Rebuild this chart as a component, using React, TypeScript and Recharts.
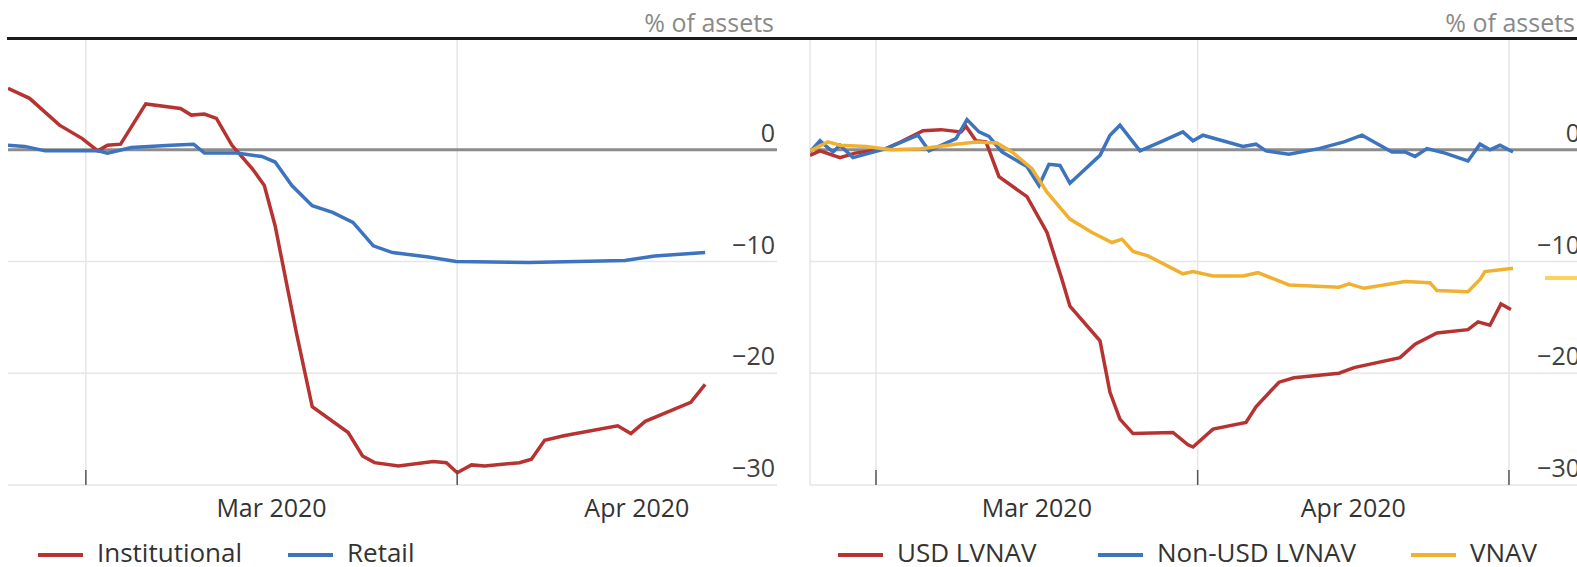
import { LineChart, Line, XAxis, YAxis, CartesianGrid, ReferenceLine } from "recharts";

// x values are days counted from 1 Mar 2020 (0 = 1 Mar, 31 = 1 Apr, 61 = 1 May)

// left panel: by investor type
const instDays = [-6.5, -4.7, -2.2, -0.3, 1.0, 1.8, 2.9, 5.0, 7.9, 8.8, 9.9, 10.9, 12.2, 13.9, 14.9, 15.8, 16.8, 17.6, 18.9, 21.9, 23.1, 24.1, 26.1, 29.0, 30.1, 31.0, 32.2, 33.3, 36.2, 37.2, 38.3, 39.9, 44.4, 45.5, 46.7, 50.5, 51.7];
const instValues = [5.5, 4.6, 2.2, 1.0, -0.1, 0.4, 0.5, 4.1, 3.7, 3.1, 3.2, 2.8, 0.4, -1.7, -3.2, -6.8, -12.2, -16.5, -23.0, -25.3, -27.4, -28.0, -28.3, -27.9, -28.0, -28.9, -28.2, -28.3, -28.0, -27.7, -26.0, -25.6, -24.7, -25.4, -24.3, -22.6, -21.0];

const retailDays = [-6.5, -5.1, -3.4, 1.0, 1.8, 3.8, 7.1, 9.0, 9.9, 12.6, 14.7, 15.8, 17.2, 18.9, 20.6, 22.3, 24.0, 25.6, 28.6, 30.9, 37.0, 45.0, 47.5, 51.7];
const retailValues = [0.4, 0.3, -0.1, -0.1, -0.3, 0.2, 0.4, 0.5, -0.3, -0.3, -0.6, -1.1, -3.2, -5.0, -5.6, -6.5, -8.6, -9.2, -9.6, -10.0, -10.1, -9.9, -9.5, -9.2];

// right panel: by fund type
const usdDays = [-6.36, -5.4, -3.47, -2.02, 0.96, 2.41, 4.53, 6.26, 8.19, 8.67, 9.64, 10.6, 11.85, 14.55, 16.48, 17.92, 18.69, 21.59, 22.55, 23.51, 24.77, 28.62, 30.07, 30.55, 32.48, 35.66, 36.62, 38.84, 40.28, 44.62, 46.07, 50.5, 51.95, 54.06, 57.05, 58.02, 59.17, 60.23, 61.19];
const usdValues = [-0.5, -0.1, -0.7, -0.3, 0.1, 0.7, 1.7, 1.8, 1.6, 2.1, 0.8, 0.7, -2.4, -4.2, -7.4, -11.6, -14.0, -17.1, -21.7, -24.1, -25.4, -25.3, -26.4, -26.6, -25.0, -24.4, -23.0, -20.8, -20.4, -20.0, -19.5, -18.6, -17.4, -16.4, -16.1, -15.4, -15.7, -13.8, -14.3];

const nonUsdDays = [-6.36, -5.4, -4.14, -3.47, -2.22, 0.96, 4.05, 5.11, 7.71, 8.77, 9.93, 10.89, 12.14, 14.55, 15.71, 16.67, 17.73, 18.69, 21.59, 22.55, 23.51, 25.44, 27.66, 29.58, 30.55, 31.51, 35.37, 36.62, 37.58, 39.8, 42.69, 45.1, 46.84, 48.0, 49.73, 50.98, 51.95, 53.1, 54.84, 57.05, 58.21, 59.17, 60.13, 61.39];
const nonUsdValues = [-0.2, 0.8, -0.2, 0.4, -0.7, 0.1, 1.3, -0.1, 1.0, 2.7, 1.6, 1.2, -0.2, -1.5, -3.2, -1.3, -1.4, -3.0, -0.5, 1.3, 2.2, -0.1, 0.8, 1.6, 0.8, 1.3, 0.3, 0.5, -0.1, -0.4, 0.1, 0.7, 1.3, 0.7, -0.2, -0.2, -0.6, 0.1, -0.3, -1.0, 0.5, 0.0, 0.4, -0.2];

const vnavDays = [-6.36, -4.63, -3.47, -0.96, 1.45, 4.34, 7.71, 9.64, 11.66, 13.11, 15.03, 16.48, 18.69, 20.82, 22.74, 23.71, 24.77, 26.21, 29.58, 30.55, 32.48, 35.37, 36.81, 39.8, 44.62, 45.58, 47.03, 50.98, 53.39, 54.06, 57.05, 58.21, 58.69, 61.39];
const vnavValues = [-0.1, 0.7, 0.4, 0.3, 0, 0.1, 0.5, 0.7, 0.6, -0.2, -1.7, -3.8, -6.2, -7.4, -8.3, -8.0, -9.1, -9.5, -11.1, -10.9, -11.3, -11.3, -11.0, -12.1, -12.3, -12.0, -12.4, -11.8, -11.9, -12.6, -12.7, -11.6, -10.9, -10.6];

const yTicks = [-30, -20, -10, 0];
const yDomain = [-30, 10];
const monthLabels = ["Mar 2020", "Apr 2020"];
const monthMids = [15.5, 46];
const leftMonthStarts = [0, 31];
const rightMonthStarts = [0, 31, 61];

const RED = "#b73332";
const BLUE = "#3d74bf";
const YELLOW = "#f1b030";
const FONT = "'Open Sans', sans-serif";

type Series = { name: string; color: string; days: number[]; values: number[] };

const zip = (days: number[], values: number[]) => days.map((d, i) => ({ d, v: values[i] }));

function YTick(props: any) {
  const { x, y, payload } = props;
  const v = Number(payload.value);
  return (
    <text x={x - 2} y={y - 8} textAnchor="end" fontSize={25} fill="#404040" fontFamily={FONT}>
      {v < 0 ? `\u2212${Math.abs(v)}` : `${v}`}
    </text>
  );
}

const NoLabel = () => <g />;

function Panel({ series, width, domain, starts, marginLeft, marginRight, leftBorder }: {
  series: Series[]; width: number; domain: [number, number]; starts: number[];
  marginLeft: number; marginRight: number; leftBorder?: boolean;
}) {
  return (
    <LineChart width={width} height={567} margin={{ top: 38, right: marginRight - 1, left: marginLeft, bottom: 81 }}>
      <CartesianGrid xAxisId="ticks" stroke="#e6e6e6" strokeWidth={1.5} syncWithTicks />
      <XAxis xAxisId="ticks" type="number" dataKey="d" domain={domain} allowDataOverflow ticks={starts} interval={0}
        height={1} mirror axisLine={false} tick={NoLabel} tickSize={15} tickLine={{ stroke: "#555", strokeWidth: 1.5 }} />
      <XAxis xAxisId="labels" type="number" dataKey="d" domain={domain} allowDataOverflow ticks={monthMids} interval={0}
        height={1} axisLine={false} tickLine={false} tickSize={0} tickMargin={14}
        tickFormatter={(v) => monthLabels[monthMids.indexOf(Number(v))] ?? ""}
        tick={{ fontSize: 25, fill: "#333", fontFamily: FONT }} />
      <YAxis orientation="right" type="number" domain={yDomain} ticks={yTicks} width={1} axisLine={false} interval={0}
        tickLine={false} tickSize={0} tickMargin={0} tick={<YTick />} allowDataOverflow />
      {leftBorder && <ReferenceLine xAxisId="ticks" x={domain[0]} stroke="#e6e6e6" strokeWidth={1.5} />}
      <ReferenceLine xAxisId="ticks" y={0} stroke="#8c8c8c" strokeWidth={3} />
      {series.map((s) => (
        <Line key={s.name} xAxisId="ticks" data={zip(s.days, s.values)} dataKey="v" name={s.name}
          type="linear" stroke={s.color} strokeWidth={3.5} dot={false} activeDot={false} isAnimationActive={false} />
      ))}
    </LineChart>
  );
}

function LegendItems({ series, positions }: { series: Series[]; positions: number[] }) {
  return (
    <>
      {series.map((s, i) => (
        <div key={s.name} style={{ position: "absolute", left: positions[i], top: 540, height: 24, display: "flex", alignItems: "center", whiteSpace: "nowrap" }}>
          <span style={{ display: "inline-block", width: 45, height: 4, background: s.color, marginRight: 14, marginTop: 6 }} />
          <span style={{ fontSize: 26, lineHeight: "24px", color: "#333" }}>{s.name}</span>
        </div>
      ))}
    </>
  );
}

const leftSeries: Series[] = [
  { name: "Institutional", color: RED, days: instDays, values: instValues },
  { name: "Retail", color: BLUE, days: retailDays, values: retailValues },
];

const rightSeries: Series[] = [
  { name: "USD LVNAV", color: RED, days: usdDays, values: usdValues },
  { name: "Non-USD LVNAV", color: BLUE, days: nonUsdDays, values: nonUsdValues },
  { name: "VNAV", color: YELLOW, days: vnavDays, values: vnavValues },
];

export default function App() {
  return (
    <div style={{ position: "relative", width: 1577, height: 567, overflow: "hidden", background: "#fff", fontFamily: FONT }}>
      <style>{"body{margin:0}"}</style>
      <div style={{ position: "absolute", left: 0, top: 0 }}>
        <Panel series={leftSeries} width={790} domain={[-6.5, 57.7]} starts={leftMonthStarts} marginLeft={8} marginRight={13} />
      </div>
      <div style={{ position: "absolute", left: 790, top: 0 }}>
        <Panel series={rightSeries} width={800} domain={[-6.36, 68.04]} starts={rightMonthStarts} marginLeft={20} marginRight={8} leftBorder />
      </div>
      <div style={{ position: "absolute", left: 7, right: 0, top: 37, height: 3, background: "#1a1a1a" }} />
      <div style={{ position: "absolute", right: 1577 - 774, top: 5, fontSize: 25, lineHeight: "34px", color: "#8a8a8a" }}>% of assets</div>
      <div style={{ position: "absolute", right: 2, top: 5, fontSize: 25, lineHeight: "34px", color: "#8a8a8a" }}>% of assets</div>
      <div style={{ position: "absolute", left: 1545, width: 40, top: 276, height: 4, background: "#fcd25c" }} />
      <LegendItems series={leftSeries} positions={[38, 288]} />
      <LegendItems series={rightSeries} positions={[838, 1098, 1411]} />
    </div>
  );
}
